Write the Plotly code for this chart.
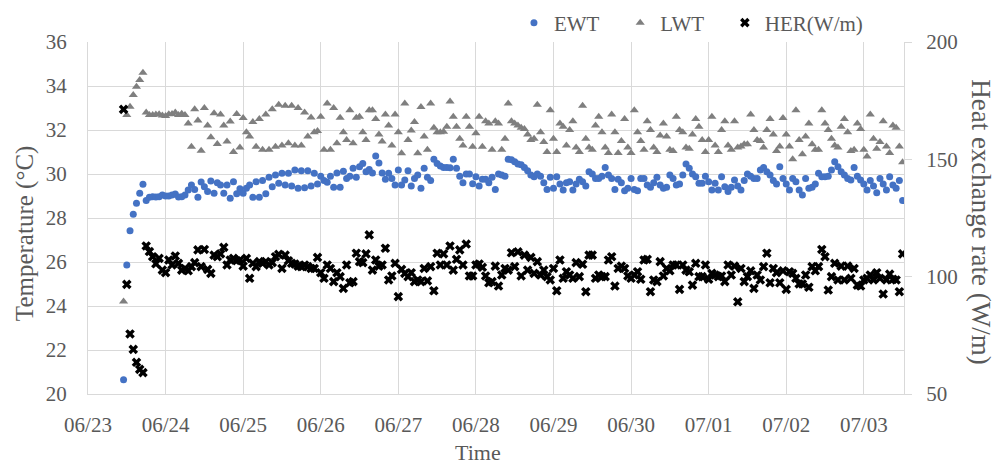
import pandas as pd
import plotly.graph_objects as go

# hourly samples starting 06/23 11:00
start_time = "2023-06-23 11:00"

series_names = ["EWT", "LWT", "HER(W/m)"]

ewt = [
    20.65, 25.86, 27.42, 28.17, 28.67, 29.12, 29.53, 28.79, 28.94, 28.97, 28.95, 28.97, 29.05,
    29.0, 29.0, 29.05, 29.09, 28.95, 28.97, 29.05, 29.27, 29.5, 29.3, 28.94, 29.64, 29.42, 29.2, 29.68, 29.12, 29.6, 29.5, 29.12, 29.5, 28.9, 29.65, 29.1, 29.33,
    29.12, 29.35, 29.5, 28.94, 29.65, 28.94, 29.7, 29.1, 29.85, 29.42, 29.95, 29.58, 30.03, 29.5, 30.03, 29.45, 30.18, 29.35, 30.15, 29.38, 30.15, 29.45, 30.03, 29.55,
    29.9, 29.7, 29.62, 29.9, 29.4, 30.05, 29.4, 30.12, 29.8, 29.9, 30.26, 29.85, 30.33, 30.48, 30.1, 30.2, 30.05, 30.82, 30.5, 30.05, 29.76, 30.03, 29.8, 29.5,
    30.18, 29.5, 29.73, 30.15, 29.45, 29.8, 29.95, 29.35, 30.26, 29.85, 29.7, 30.67, 30.48, 30.36, 30.3, 30.3, 30.28, 30.67, 30.26, 29.9, 29.6, 30.0, 30.0, 29.56,
    29.88, 29.45, 29.76, 29.76, 29.6, 29.85, 29.3, 30.0, 29.95, 29.9, 30.67, 30.65, 30.56, 30.45, 30.42, 30.3, 30.15, 29.95, 29.88, 30.0, 29.9, 29.6, 29.3, 29.85,
    29.35, 29.88, 29.55, 29.27, 29.6, 29.65, 29.27, 29.55, 29.76, 29.65, 29.45, 30.1, 30.0, 29.8, 29.8, 29.9, 30.3, 29.95, 29.8, 29.3, 29.76, 29.6, 29.24, 29.35,
    29.8, 29.3, 29.24, 29.8, 29.8, 29.5, 29.4, 29.6, 29.85, 29.5, 29.35, 29.4, 29.95, 29.8, 29.5, 29.55, 29.95, 30.45, 30.26, 30.0, 29.88, 29.58, 29.58, 29.9,
    29.65, 29.27, 29.58, 29.27, 29.88, 29.42, 29.2, 29.4, 29.73, 29.45, 29.27, 29.7, 30.0, 29.9, 29.8, 29.8, 30.18, 30.3, 30.1, 29.95, 29.7, 29.55, 30.33, 29.8,
    29.55, 29.27, 29.8, 29.65, 29.27, 29.05, 29.8, 29.35, 29.4, 29.55, 30.03, 29.88, 29.88, 29.9, 30.18, 30.56, 30.33, 30.1, 29.95, 29.8, 29.73, 30.3, 29.9, 29.73,
    29.55, 29.27, 29.7, 29.45, 29.15, 29.8, 29.55, 29.27, 29.88, 29.5, 29.35, 29.7, 28.79,
]

lwt = [
    24.2, 32.68, 33.06, 33.59, 33.97, 34.27, 34.6, 32.79, 32.68, 32.68, 32.7, 32.72, 32.66,
    32.64, 32.72, 32.73, 32.8, 32.68, 32.74, 32.68, 32.3, 31.24, 32.94, 32.43, 31.06, 33.0, 32.2, 31.67, 32.76, 31.36, 32.7, 32.2, 31.48, 32.39, 31.0, 32.73, 31.2,
    32.55, 31.9, 31.7, 32.36, 31.24, 32.5, 31.1, 32.7, 31.1, 32.94, 31.24, 33.15, 31.3, 33.1, 31.4, 33.1, 31.3, 33.0, 31.3, 32.8, 31.7, 32.57, 31.9, 31.95,
    32.6, 31.1, 33.2, 31.1, 33.0, 31.4, 32.56, 31.9, 31.55, 32.9, 31.4, 32.56, 32.6, 31.9, 31.55, 32.9, 32.9, 32.5, 31.8, 31.48, 32.7, 32.2, 31.3, 32.7,
    31.9, 30.94, 33.2, 31.55, 31.98, 32.36, 30.94, 33.05, 31.7, 31.1, 33.2, 32.1, 31.9, 31.9, 31.92, 32.15, 33.3, 32.6, 32.15, 31.6, 31.3, 32.6, 32.15, 31.24,
    31.85, 32.6, 31.24, 32.4, 32.3, 31.1, 32.4, 32.3, 31.1, 31.6, 33.2, 32.4, 32.3, 32.2, 32.1, 32.05, 31.8, 31.55, 31.6, 33.15, 31.9, 31.45, 31.0, 32.9,
    31.6, 31.0, 32.3, 32.15, 31.3, 32.0, 32.4, 31.2, 31.0, 33.1, 31.6, 31.2, 31.1, 32.2, 32.6, 31.9, 31.2, 30.96, 32.7, 31.9, 30.96, 31.5, 32.5, 31.2,
    30.96, 32.9, 31.9, 31.5, 31.1, 32.4, 32.0, 31.2, 31.0, 31.75, 32.3, 31.7, 31.1, 31.05, 32.6, 32.0, 31.9, 31.2, 31.15, 31.8, 32.5, 32.15, 31.55, 31.0,
    31.55, 32.6, 31.3, 31.0, 32.0, 32.4, 31.3, 31.1, 32.4, 31.2, 31.25, 31.35, 31.35, 32.7, 32.0, 31.55, 31.5, 31.2, 32.0, 32.5, 31.8, 31.05, 31.25, 32.55,
    31.8, 31.25, 30.67, 32.9, 31.55, 30.9, 31.7, 32.3, 31.35, 31.1, 31.1, 32.9, 32.3, 32.0, 31.6, 31.3, 31.2, 32.15, 32.5, 31.9, 31.05, 31.1, 32.3, 32.05,
    31.1, 30.8, 32.7, 31.6, 31.15, 31.45, 32.4, 31.25, 30.95, 32.2, 32.1, 31.25, 30.53,
]

her = [
    171.3, 96.7, 75.6, 69.0, 63.5, 60.5, 59.1, 113.1, 110.7, 108.5, 105.5, 107.8, 102.8,
    101.7, 107.1, 105.0, 108.8, 105.7, 102.8, 103.5, 102.5, 104.3, 106.0, 111.4, 104.3, 111.6, 103.1, 101.4, 109.2, 108.5, 109.7, 112.5, 105.0, 107.1, 107.8, 106.8, 107.1,
    104.5, 107.8, 99.3, 105.7, 104.3, 106.4, 105.7, 106.4, 105.0, 106.0, 108.5, 109.5, 103.5, 109.2, 106.8, 105.7, 105.4, 104.5, 104.3, 105.0, 104.3, 103.5, 103.5, 108.2,
    101.7, 99.3, 105.0, 103.5, 97.9, 101.7, 100.0, 95.0, 105.0, 97.4, 97.9, 110.0, 106.4, 106.0, 109.7, 117.8, 102.8, 107.1, 104.5, 105.0, 112.1, 98.6, 100.3, 105.7,
    91.5, 103.1, 101.4, 100.0, 101.7, 97.9, 98.6, 97.9, 103.5, 98.2, 104.3, 94.0, 110.0, 105.0, 109.7, 105.0, 113.1, 102.8, 107.4, 111.4, 105.0, 113.9, 100.3, 100.3,
    105.0, 105.4, 104.0, 100.3, 97.4, 97.9, 104.5, 96.0, 100.7, 103.5, 102.8, 110.2, 104.3, 110.6, 100.3, 109.2, 102.8, 108.2, 101.4, 106.4, 100.7, 102.8, 100.0, 98.6,
    103.5, 94.0, 107.1, 99.3, 102.1, 100.7, 99.3, 106.0, 100.0, 105.3, 93.6, 109.2, 109.2, 99.3, 100.7, 100.0, 100.0, 107.1, 108.5, 96.0, 103.5, 104.5, 103.5, 100.3,
    99.3, 100.7, 102.1, 98.9, 107.1, 107.4, 93.6, 98.6, 97.9, 106.4, 100.3, 103.5, 102.5, 105.0, 105.0, 94.6, 105.0, 102.8, 102.1, 96.4, 105.7, 100.0, 100.0, 105.0,
    98.9, 101.4, 100.7, 100.0, 100.3, 97.9, 105.0, 100.7, 104.5, 89.3, 103.5, 97.9, 100.0, 102.5, 95.0, 100.7, 98.6, 104.3, 110.0, 97.4, 103.5, 101.7, 97.4, 102.5,
    94.6, 102.1, 101.4, 99.3, 96.9, 96.9, 100.7, 95.5, 104.3, 102.5, 104.3, 111.6, 108.5, 94.3, 100.0, 105.7, 98.6, 104.5, 98.6, 104.5, 99.3, 103.5, 96.4, 96.0,
    98.6, 99.3, 100.7, 98.6, 101.7, 99.3, 92.6, 98.6, 101.1, 98.9, 98.6, 93.6, 109.7,
]

times = pd.date_range(start_time, periods=len(ewt), freq="h")

FONT = "Liberation Serif"
TXT = "#595959"
GRID = "#d9d9d9"
PAD = "\u00a0" * 3  # spacing between legend entries

fig = go.Figure()
fig.add_trace(go.Scatter(x=times, y=ewt, mode="markers", name=series_names[0] + PAD,
                         marker=dict(symbol="circle", size=7, color="#4472C4")))
fig.add_trace(go.Scatter(x=times, y=lwt, mode="markers", name=series_names[1] + PAD,
                         marker=dict(symbol="triangle-up", size=8, color="#7F7F7F")))
fig.add_trace(go.Scatter(x=times, y=her, mode="markers", name=series_names[2], yaxis="y2",
                         marker=dict(symbol="x", size=8.5, color="#000000",
                                     line=dict(width=0))))

fig.update_layout(
    width=1003, height=464,
    margin=dict(l=88, r=99, t=42, b=70, autoexpand=False),
    paper_bgcolor="white", plot_bgcolor="white",
    font=dict(family=FONT, size=21, color=TXT),
    showlegend=True,
    legend=dict(orientation="h", x=0.522, y=1.054, xanchor="left", yanchor="middle",
                font=dict(family=FONT, size=21, color=TXT), bgcolor="rgba(0,0,0,0)",
                itemsizing="trace"),
    xaxis=dict(
        type="date",
        range=["2023-06-23 00:00", "2023-07-03 12:26"],
        tick0="2023-06-23", dtick=86400000, tickformat="%m/%d",
        showgrid=True, gridcolor=GRID, gridwidth=1,
        showline=True, linecolor=GRID, linewidth=1,
        ticks="", ticklabelstandoff=12,
        tickfont=dict(family=FONT, size=21, color=TXT),
        zeroline=False,
    ),
    yaxis=dict(
        range=[20, 36], dtick=2, tick0=20,
        showgrid=True, gridcolor=GRID, gridwidth=1,
        showline=True, linecolor=GRID, linewidth=1,
        ticks="", ticklabelstandoff=16,
        tickfont=dict(family=FONT, size=21, color=TXT),
        zeroline=False,
    ),
    yaxis2=dict(
        range=[50, 200], dtick=50, tick0=50,
        overlaying="y", side="right",
        showgrid=False, showline=True, linecolor=GRID, linewidth=1,
        ticks="outside", ticklen=7, tickcolor=GRID,
        ticklabelstandoff=10,
        tickfont=dict(family=FONT, size=21, color=TXT),
        zeroline=False,
    ),
    annotations=[
        dict(text="Temperature (°C)", xref="paper", yref="paper", x=-0.0772, y=0.457,
             xanchor="center", yanchor="middle", textangle=-90, showarrow=False,
             font=dict(family=FONT, size=25, color=TXT)),
        dict(text="Heat exchange rate (W/m)", xref="paper", yref="paper", x=1.094, y=0.489,
             xanchor="center", yanchor="middle", textangle=90, showarrow=False,
             font=dict(family=FONT, size=27, color=TXT)),
        dict(text="Time", xref="paper", yref="paper", x=0.478, y=-0.165,
             xanchor="center", yanchor="middle", showarrow=False,
             font=dict(family=FONT, size=22, color=TXT)),
    ],
)

fig.write_html("out.html", config={"displayModeBar": False},
               post_script="document.body.style.margin='0px';")
